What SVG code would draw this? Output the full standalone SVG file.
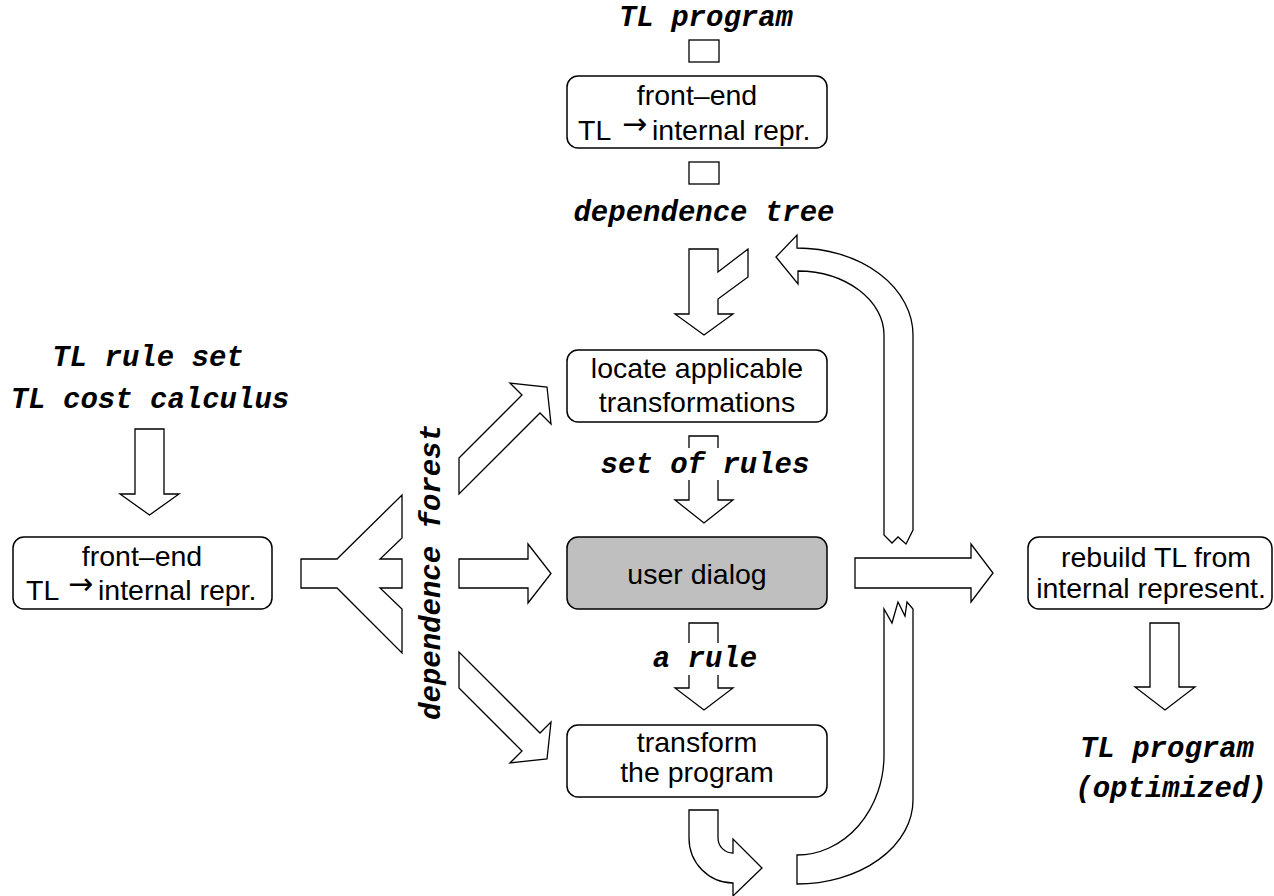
<svg xmlns="http://www.w3.org/2000/svg" width="1274" height="896" viewBox="0 0 1274 896">
<style>
.box{fill:#fff;stroke:#000;stroke-width:1.5}
.gray{fill:#bfbfbf}
.arr{fill:#fff;stroke:#000;stroke-width:1.3;stroke-linejoin:miter}
.sans{font-family:"Liberation Sans",Arial,sans-serif;font-size:28.5px;fill:#000}
.mono{font-family:"Liberation Mono","Courier New",monospace;font-size:29px;font-weight:bold;font-style:italic;fill:#000}
.mid{text-anchor:middle}
.arrow{font-family:"DejaVu Sans",sans-serif;font-size:30px}
</style>
<rect width="1274" height="896" fill="#fff"/>

<g id="connectors">
  <rect class="arr" x="689" y="40" width="30" height="22"/>
  <rect class="arr" x="689" y="162" width="30" height="22"/>
  <path class="arr" d="M689,249 L718,249 L718,272 L748,249 L748,277 L718,299 L718,314 L733,314 L704,335 L675,314 L689,314 Z"/>
  <path class="arr" d="M776,257 L797,235 L797,248 A116 87 0 0 1 913,335 L913,530 L906,544 L898,537 L892,543 L884,535 L884,335 A87 64 0 0 0 798,271 L798,284 Z"/>
  <path class="arr" d="M913,609 L913,800 A116 84 0 0 1 797,884 L797,855 A87 100 0 0 0 884,755 L884,609 L892,623 L898,602 L905,616 L907,602 Z"/>
  <path class="arr" d="M689,810 L718,810 L718,838 A15 15 0 0 0 733,853 L733,839 L762,868 L733,896 L733,883 A44 45 0 0 1 689,838 Z"/>
  <path class="arr" d="M135,429 L164,429 L164,494 L179,494 L149.5,515 L120,494 L135,494 Z"/>
  <path class="arr" d="M301,559 L337,559 L402,495 L402,538 L380,559 L402,559 L402,588 L380,588 L402,609 L402,653 L337,588 L301,588 Z"/>
  <path class="arr" d="M459,458 L522,395 L510,383 L547,387 L551,424 L540,413 L459,494 Z"/>
  <path class="arr" d="M459,559 L528,559 L528,544 L551,573.5 L528,603 L528,588 L459,588 Z"/>
  <path class="arr" d="M459,688 L522,751 L510,763 L547,759 L551,722 L540,733 L459,652 Z"/>
  <path class="arr" d="M689,436 L718,436 L718,500 L733,500 L704,523 L675,500 L689,500 Z"/>
  <path class="arr" d="M689,623 L718,623 L718,688 L733,688 L704,710 L675,688 L689,688 Z"/>
  <path class="arr" d="M855,558 L971,558 L971,544 L993,573 L971,602 L971,588 L855,588 Z"/>
  <path class="arr" d="M1150,623 L1179,623 L1179,687 L1195,687 L1165,710 L1135,687 L1150,687 Z"/>
  <rect x="600" y="448" width="210" height="32" fill="#fff"/>
  <rect x="650" y="643" width="110" height="32" fill="#fff"/>
</g>

<g id="labels">
  <text class="mono mid" x="706" y="26">TL program</text>
  <text class="mono mid" x="704" y="221">dependence tree</text>
  <text class="mono mid" x="148" y="366">TL rule set</text>
  <text class="mono mid" x="150" y="408">TL cost calculus</text>
  <text class="mono mid" x="705" y="473">set of rules</text>
  <text class="mono mid" x="705" y="667">a rule</text>
  <text class="mono mid" transform="translate(440,572) rotate(-90)" x="0" y="0">dependence forest</text>
  <text class="mono mid" x="1167" y="757">TL program</text>
  <text class="mono mid" x="1171" y="797">(optimized)</text>
</g>

<g id="frontend-top">
  <rect class="box" x="567" y="76" width="260" height="72" rx="11"/>
  <text class="sans mid" x="697" y="105">front–end</text>
  <text class="sans" y="140"><tspan x="578">TL</tspan><tspan class="arrow" x="622" dy="-6">→</tspan><tspan x="652" dy="6">internal repr.</tspan></text>
</g>

<g id="locate">
  <rect class="box" x="567" y="350" width="260" height="72" rx="11"/>
  <text class="sans mid" x="697" y="378">locate applicable</text>
  <text class="sans mid" x="697" y="412">transformations</text>
</g>

<g id="dialog">
  <rect class="box gray" x="567" y="537" width="260" height="72" rx="11"/>
  <text class="sans mid" x="697" y="584">user dialog</text>
</g>

<g id="transform">
  <rect class="box" x="567" y="725" width="260" height="72" rx="11"/>
  <text class="sans mid" x="697" y="752">transform</text>
  <text class="sans mid" x="697" y="782">the program</text>
</g>

<g id="frontend-left">
  <rect class="box" x="13" y="537" width="259" height="72" rx="11"/>
  <text class="sans mid" x="142" y="566">front–end</text>
  <text class="sans" y="600"><tspan x="26">TL</tspan><tspan class="arrow" x="68" dy="-6">→</tspan><tspan x="98" dy="6">internal repr.</tspan></text>
</g>

<g id="rebuild">
  <rect class="box" x="1028" y="537" width="244" height="72" rx="11"/>
  <text class="sans mid" x="1156" y="567">rebuild TL from</text>
  <text class="sans mid" x="1151" y="598">internal represent.</text>
</g>
</svg>
